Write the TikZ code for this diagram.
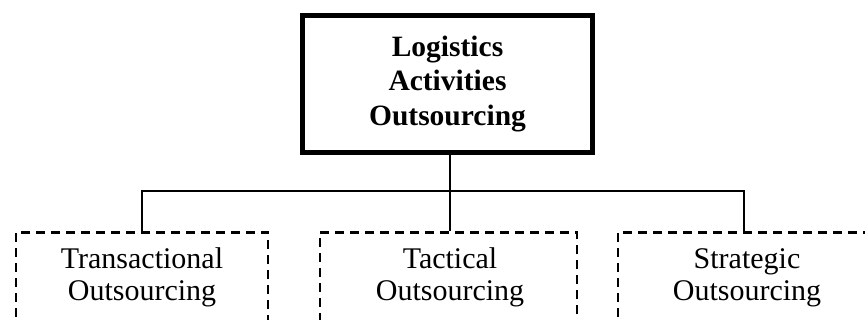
\documentclass[tikz,border=0pt]{standalone}
\usepackage{fontspec}
\setmainfont{Liberation Serif}
\begin{document}
\begin{tikzpicture}[x=1pt,y=-1pt,
  mainbox/.style={draw, line width=5pt, minimum width=290pt, minimum height=137pt, inner sep=0pt, align=center, font=\fontsize{29.5}{34.5}\selectfont\bfseries},
  dashbox/.style={draw, dashed, dash pattern=on 9pt off 6pt, line width=2.6pt, minimum width=252pt, minimum height=140pt, inner sep=0pt},
  lbl/.style={align=center, inner sep=0pt, font=\fontsize{30}{32}\selectfont},
  conn/.style={draw, line width=1.8pt}]
\useasboundingbox (0,0) rectangle (865,320);
\clip (0,0) rectangle (865,320);
\node[mainbox] (top) at (447.5,84) {Logistics\\Activities\\Outsourcing};
\node[dashbox, anchor=north] (b1) at (142,231) {};
\node[dashbox, anchor=north, minimum width=257pt] (b2) at (448.5,231) {};
\node[dashbox, anchor=north] (b3) at (744,231) {};
\node[lbl] (t1) at (142,277) {\vphantom{Tl}Transactional\\Outsourcing};
\node[lbl] (t2) at (450,277) {\vphantom{Tl}Tactical\\Outsourcing};
\node[lbl] (t3) at (747,277) {\vphantom{Tl}Strategic\\Outsourcing};
\coordinate (hub) at (450,191);
\draw[conn] (hub |- top.south) -- (hub) -- (hub |- b2.north);
\draw[conn] (b1.north) |- (hub) -| (b3.north);
\end{tikzpicture}
\end{document}
